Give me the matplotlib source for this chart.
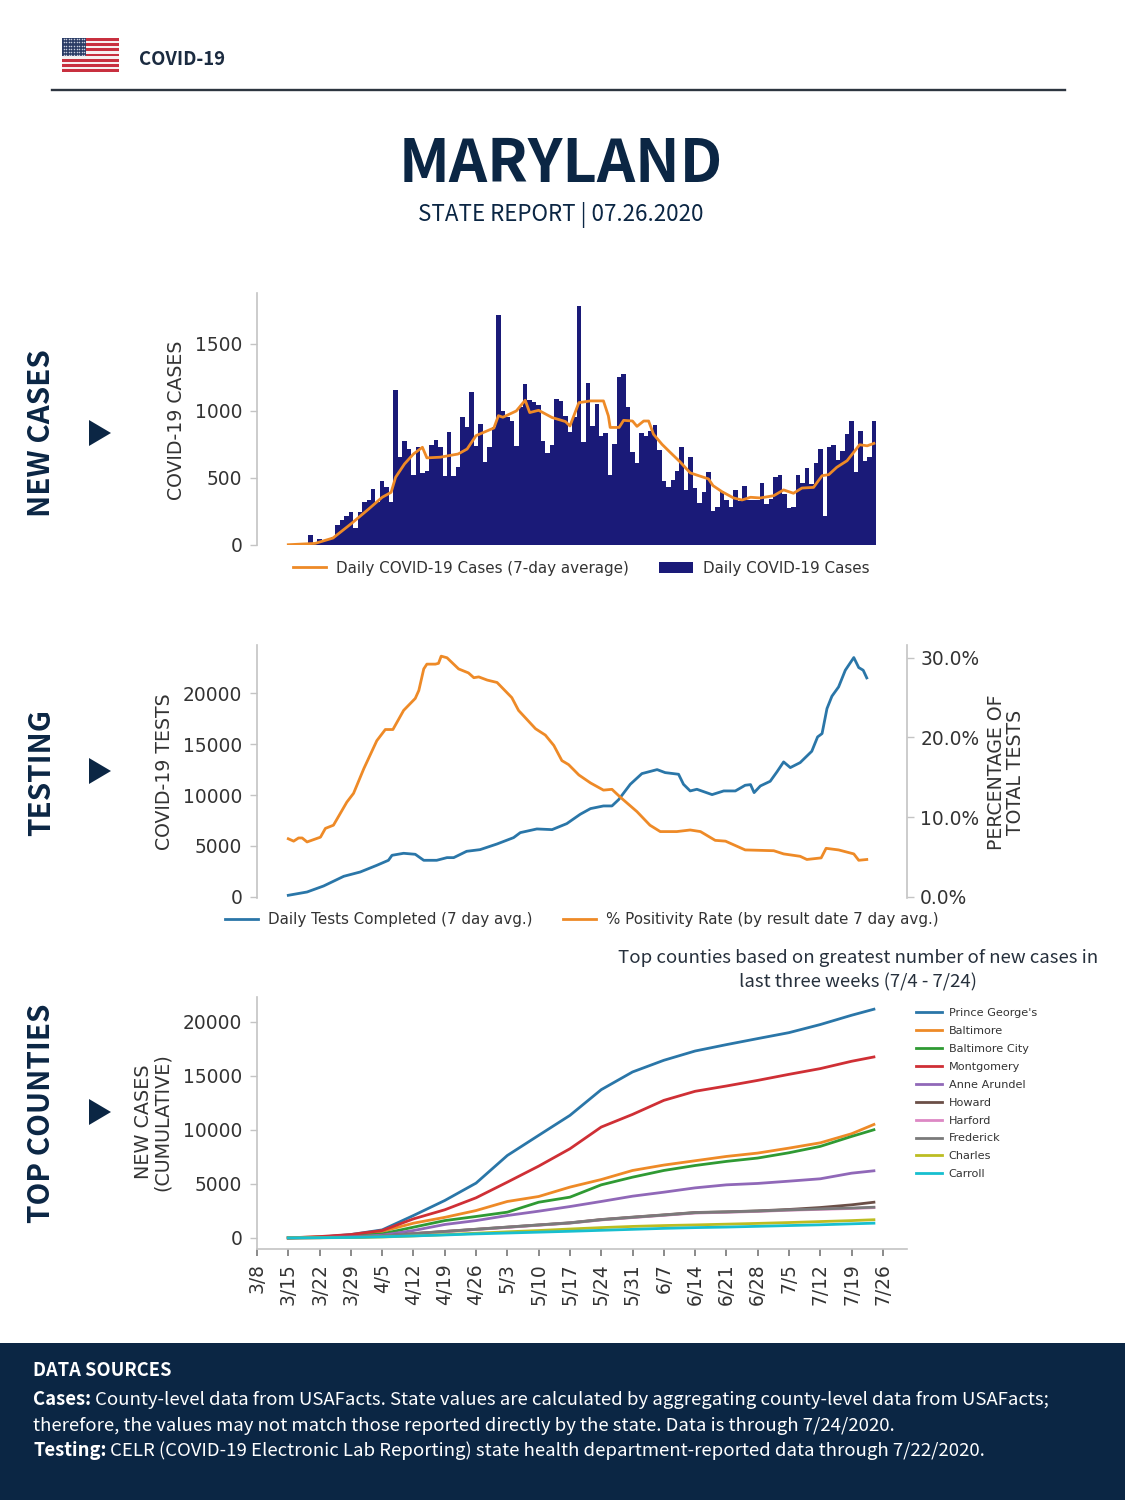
import numpy as np
import matplotlib
matplotlib.use("Agg")
import matplotlib.pyplot as plt
from matplotlib.patches import Rectangle, Polygon

# daily cases, one per day from 3/15
case_vals = [3,5,10,15,10,75,8,45,30,45,60,152,187,214,244,127,244,318,338,418,318,480,430,318,1157,654,779,717,525,729,
             535,555,749,786,729,518,846,518,580,958,883,1144,741,903,617,734,878,1719,1003,953,923,739,1028,1202,1085,1070,1045,779,687,749,
             1090,1077,965,841,953,1781,766,1207,891,1052,816,833,525,754,1251,1276,1028,692,610,836,816,853,896,712,480,430,488,555,729,413,
             654,423,311,398,547,256,281,405,336,281,410,326,443,336,336,336,463,306,343,505,525,381,276,281,525,460,575,455,612,714,
             214,729,749,634,704,828,923,547,853,629,654,928]
avg_days = [0,6,10,14,18,21,23,24,26,28,30,31,34,38,40,42,46,47,48,51,53,54,56,59,62,63,65,67.6,70.5,71.6,72,74,75,77,78,79.5,80.6,81.7,83.6,85.4,87.7,89.9,
            94,95,97,99.6,101.5,103.4,105.6,108.6,110.8,113,114.9,117.5,119.4,120.9,122.7,125,127.8,129.5,131]
avg_vals = [2,12,52,157,269,356,393,505,605,679,729,650,655,679,716,816,873,965,953,1000,1080,988,1005,951,921,888,1062,1075,1075,963,877,877,930,925,885,925,925,826,751,692,618,538,
            493,443,398,351,336,356,351,368,411,386,425,430,517,525,580,629,748,740,758]

test_days = [0,4.2,7.9,12.4,16.1,19.8,22.4,23.2,25.8,28.4,30.3,33.2,35.5,37,39.9,42.9,46.7,50.4,51.9,55.6,59,62.3,65.3,67.6,70.5,72.4,73.9,76.5,79.1,82.5,84.3,87.3,88.4,89.9,91.4,94.8,97.4,100,
             102.2,103.4,104.2,105.6,107.8,109.3,110.8,112.3,114.5,117.1,118.4,119.4,120.5,121.6,123.1,124.6,126.5,127.6,128.6,129.4]
test_vals = [164,490,1079,2027,2452,3106,3597,4087,4284,4186,3597,3597,3859,3859,4480,4643,5199,5821,6311,6671,6605,7194,8110,8666,8927,8927,9548,11052,12099,12491,12197,12034,11052,10399,10562,10039,10399,10399,
             10955,11020,10235,10889,11347,12263,13244,12688,13178,14290,15696,16023,18476,19685,20601,22236,23479,22498,22236,21484]
pos_days = [0,1.2,2.3,3.1,4.2,7.2,8.3,10.1,13.1,14.6,16.9,19.8,21.7,23.4,25.8,28.4,29.2,30.3,31,32.9,33.6,34.2,35.5,38.1,40.3,41.5,42.6,44.5,46.7,50,51.5,55.3,57.5,59.4,61.2,62.7,65,67.6,
            70.5,72.4,74.3,78,80.9,83.2,86.9,89.9,92.2,95.5,97.8,102.2,108.6,110.8,114.5,116,119.2,120.3,123.1,126.5,127.6,129.4]
pos_vals = [7.3,7.0,7.4,7.4,6.9,7.5,8.6,9.0,11.9,13.0,16.1,19.6,21.0,21.0,23.4,24.9,25.9,28.6,29.2,29.2,29.3,30.2,30.0,28.6,28.1,27.5,27.6,27.2,26.9,25.0,23.4,21.1,20.3,19.0,17.1,16.6,15.3,14.3,
            13.4,13.5,12.5,10.7,9.0,8.2,8.2,8.4,8.2,7.1,7.0,5.9,5.8,5.4,5.1,4.7,4.9,6.1,5.9,5.4,4.6,4.7]

# county cumulative, weekly from 3/15 then 7/24
county_days = [0,7,14,21,28,35,42,49,56,63,70,77,84,91,98,105,112,119,126,131]
county_names = ["Prince George's","Baltimore","Baltimore City","Montgomery","Anne Arundel","Howard","Harford","Frederick","Charles","Carroll"]
pg = [0,60,310,740,2070,3460,5070,7630,9490,11340,13720,15360,16440,17300,17890,18450,19000,19750,20610,21170]
balt = [0,100,200,600,1360,1900,2530,3370,3830,4700,5400,6240,6740,7140,7540,7850,8310,8800,9640,10500]
balt_city = [0,60,150,370,990,1600,1980,2380,3300,3770,4910,5620,6240,6700,7080,7390,7880,8470,9390,10010]
mont = [0,120,310,680,1760,2600,3710,5160,6640,8250,10260,11430,12730,13570,14060,14580,15140,15670,16350,16750]
anne = [0,30,100,250,680,1240,1600,2070,2470,2900,3370,3860,4230,4630,4910,5040,5250,5470,5990,6210]
howard = [0,20,60,150,400,600,800,1000,1200,1400,1700,1920,2130,2350,2410,2500,2630,2810,3060,3300]
harford = [0,15,50,130,370,570,770,970,1170,1370,1660,1880,2090,2300,2370,2450,2560,2640,2720,2800]
frederick = [0,20,60,150,390,590,790,990,1190,1380,1680,1900,2110,2330,2400,2480,2590,2680,2760,2840]
charles = [0,10,30,80,180,300,430,560,680,820,950,1060,1140,1200,1270,1340,1420,1510,1600,1680]
carroll = [0,15,40,100,180,270,370,450,530,610,700,790,880,950,1000,1070,1140,1210,1300,1360]
county_vals = [pg,balt,balt_city,mont,anne,howard,harford,frederick,charles,carroll]

date_labels = ["3/8","3/15","3/22","3/29","4/5","4/12","4/19","4/26","5/3","5/10","5/17","5/24","5/31","6/7","6/14","6/21","6/28","7/5","7/12","7/19","7/26"]

W,H = 1125,1500
NAVY = "#0b2644"
SPINE = "#c4c4c4"
TXT = "#333333"
SANS = "Noto Sans CJK SC"

def fx(x): return x/W
def fy(y): return 1-y/H

def px_axes(fig,x0,y0,x1,y1):
	return fig.add_axes([fx(x0),fy(y1),(x1-x0)/W,(y1-y0)/H])

def style_ax(ax):
	for s in ["top","right","bottom"]: ax.spines[s].set_visible(False)
	ax.spines["left"].set_color(SPINE)
	ax.spines["left"].set_linewidth(1.2)
	ax.tick_params(axis="y",colors=TXT,labelsize=13.4,length=5,width=1.0,color=SPINE,pad=5.5)
	ax.set_xlim(0,145.4)
	ax.set_xticks([])
	ax.patch.set_alpha(0)

fig = plt.figure(figsize=(W/100,H/100),dpi=100,facecolor="white")

# header
flag = px_axes(fig,62,38,119,72)
flag.set_xlim(0,1); flag.set_ylim(0,13); flag.axis("off")
for k in range(13):
	flag.add_patch(Rectangle((0,k),1,1,color="#c8303f" if k%2==0 else "#f6f0f0",lw=0))
flag.add_patch(Rectangle((0,6),0.42,7,color="#2c3d66",lw=0))
sx,sy = np.meshgrid(np.linspace(0.03,0.39,9),np.linspace(6.5,12.5,6))
flag.scatter(sx.ravel(),sy.ravel(),s=1.2,c="#c9cfdf",lw=0)
fig.text(fx(139),fy(65),"COVID-19",family=SANS,weight="bold",size=13.4,color="#1b2b40",va="baseline")
fig.add_artist(plt.Line2D([fx(52),fx(1065)],[fy(90),fy(90)],color="#2d3540",lw=1.7))
fig.text(fx(561),fy(182),"MARYLAND",family=SANS,weight="bold",size=43,color=NAVY,ha="center",va="baseline")
fig.text(fx(561),fy(221),"STATE REPORT | 07.26.2020",family=SANS,size=16.1,color=NAVY,ha="center",va="baseline")

# section labels and arrows
for label,yc,ya in [("NEW CASES",433,433),("TESTING",772,771),("TOP COUNTIES",1113,1112)]:
	fig.text(fx(41),fy(yc),label,family=SANS,weight="bold",size=21.3,color=NAVY,rotation=90,ha="center",va="center")
	fig.add_artist(Polygon([[fx(89),fy(ya-13)],[fx(89),fy(ya+13)],[fx(111),fy(ya)]],closed=True,color=NAVY,lw=0,transform=fig.transFigure))

# new cases
ax1 = px_axes(fig,257,293,907,545)
style_ax(ax1)
case_x = np.arange(len(case_vals))+7
bars = ax1.bar(case_x,case_vals,width=1.0,color="#1a1a78",lw=0,label="Daily COVID-19 Cases")
ln, = ax1.plot(np.array(avg_days)+7,avg_vals,color="#ee8a27",lw=2.0,label="Daily COVID-19 Cases (7-day average)")
ax1.set_ylim(0,1880)
ax1.set_yticks([0,500,1000,1500])
fig.text(fx(177),fy(420),"COVID-19 CASES",size=13.6,color=TXT,rotation=90,ha="center",va="center")
fig.legend(handles=[ln,bars],loc="center",bbox_to_anchor=(fx(581),fy(568)),ncol=2,frameon=False,fontsize=10.9,labelcolor=TXT,handlelength=2.2,columnspacing=2.0,handletextpad=0.66)

# testing
ax2 = px_axes(fig,257,645,907,898)
style_ax(ax2)
l_test, = ax2.plot(np.array(test_days)+7,test_vals,color="#2a76a8",lw=2.0,label="Daily Tests Completed (7 day avg.)")
ax2.set_ylim(-100,24710)
ax2.set_yticks([0,5000,10000,15000,20000])
ax2b = ax2.twinx()
ax2b.patch.set_alpha(0)
for s in ["top","left","bottom"]: ax2b.spines[s].set_visible(False)
ax2b.spines["right"].set_color(SPINE)
ax2b.spines["right"].set_linewidth(1.2)
l_pos, = ax2b.plot(np.array(pos_days)+7,pos_vals,color="#ee8a27",lw=2.0,label="% Positivity Rate (by result date 7 day avg.)")
ax2b.set_ylim(-0.13,31.6)
ax2b.set_yticks([0,10,20,30])
ax2b.set_yticklabels(["0.0%","10.0%","20.0%","30.0%"])
ax2b.tick_params(axis="y",colors=TXT,labelsize=13.4,length=5,width=1.0,color=SPINE,pad=4.5)
fig.text(fx(165),fy(772),"COVID-19 TESTS",size=13.6,color=TXT,rotation=90,ha="center",va="center")
fig.text(fx(1006),fy(772),"PERCENTAGE OF\nTOTAL TESTS",size=13.6,color=TXT,rotation=90,ha="center",va="center",linespacing=1.05)
fig.legend(handles=[l_test,l_pos],loc="center",bbox_to_anchor=(fx(582),fy(920)),ncol=2,frameon=False,fontsize=10.9,labelcolor=TXT,handlelength=2.2,columnspacing=2.0,handletextpad=0.66)

# top counties
ax3 = px_axes(fig,257,997,907,1249)
style_ax(ax3)
ax3.spines["bottom"].set_visible(True)
ax3.spines["bottom"].set_color(SPINE)
ax3.spines["bottom"].set_linewidth(1.2)
colors3 = ["#2a76a8","#ee8a27","#2f9a33","#cf2f35","#9068b8","#6b4f47","#dd88c4","#7a7a7a","#bcbd22","#17bfcf"]
for name,vals,c in zip(county_names,county_vals,colors3):
	ax3.plot(np.array(county_days)+7,vals,color=c,lw=2.0,label=name)
ax3.set_ylim(-1030,22300)
ax3.set_yticks([0,5000,10000,15000,20000])
ax3.set_xticks(np.arange(len(date_labels))*7)
ax3.set_xticklabels(date_labels,rotation=90)
ax3.tick_params(axis="x",colors=TXT,labelsize=13.4,length=5,width=1.2,color="#777777",pad=5)
fig.text(fx(153),fy(1122),"NEW CASES\n(CUMULATIVE)",size=13.8,color=TXT,rotation=90,ha="center",va="center",linespacing=1.05)
ax3.legend(handlelength=2.3,loc="upper left",bbox_to_anchor=(fx(916),fy(1008)),bbox_transform=fig.transFigure,frameon=False,fontsize=8.15,labelcolor=TXT,handletextpad=0.6,labelspacing=0.7,borderaxespad=0,borderpad=0)
fig.text(fx(858),fy(970.5),"Top counties based on greatest number of new cases in\nlast three weeks (7/4 - 7/24)",family=SANS,size=13.4,color="#26303c",ha="center",va="center",linespacing=1.45)

# footer
fig.add_artist(Rectangle((0,0),1,fy(1343),color=NAVY,lw=0,transform=fig.transFigure))
fig.text(fx(33),fy(1376),"DATA SOURCES",family=SANS,weight="bold",size=13.2,color="white",va="baseline")
rend = fig.canvas.get_renderer()
def foot(y,head,rest):
	x = 33
	if head:
		t = fig.text(fx(x),fy(y),head,family=SANS,weight="bold",size=13.3,color="white",va="baseline")
		x = t.get_window_extent(rend).x1+4
	fig.text(fx(x),fy(y),rest,family=SANS,size=13.39,color="white",va="baseline")
foot(1405,"Cases:","County-level data from USAFacts. State values are calculated by aggregating county-level data from USAFacts;")
foot(1431,"","therefore, the values may not match those reported directly by the state. Data is through 7/24/2020.")
foot(1456,"Testing:","CELR (COVID-19 Electronic Lab Reporting) state health department-reported data through 7/22/2020.")

fig.savefig("out.png",dpi=100)
